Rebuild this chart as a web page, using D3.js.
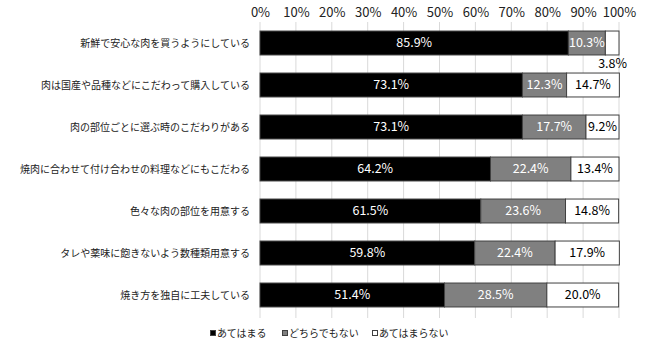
<!DOCTYPE html>
<html><head><meta charset="utf-8">
<script src="https://cdn.jsdelivr.net/npm/d3@7"></script>
<style>body{margin:0;background:#fff;}svg{display:block;font-family:"Noto Sans CJK JP","Noto Sans",sans-serif;}</style>
</head><body>
<svg id="c" width="650" height="349"></svg>
<script>
const categories = ["新鮮で安心な肉を買うようにしている","肉は国産や品種などにこだわって購入している","肉の部位ごとに選ぶ時のこだわりがある","焼肉に合わせて付け合わせの料理などにもこだわる","色々な肉の部位を用意する","タレや薬味に飽きないよう数種類用意する","焼き方を独自に工夫している"];
const seriesNames = ["あてはまる","どちらでもない","あてはまらない"];
const applies = [85.9,73.1,73.1,64.2,61.5,59.8,51.4];
const neutral = [10.3,12.3,17.7,22.4,23.6,22.4,28.5];
const notApplies = [3.8,14.7,9.2,13.4,14.8,17.9,20.0];
const tickValues = [0,10,20,30,40,50,60,70,80,90,100];
const colors = ["#000000","#808080","#ffffff"];
const textColors = ["#ffffff","#ffffff","#000000"];

const svg = d3.select("#c");
const x = d3.scaleLinear().domain([0,100]).range([260,619]);
const y = d3.scaleBand().domain(categories).range([22,316]).paddingInner(0.43).paddingOuter(0.215);

// gridlines
svg.append("g").selectAll("line").data(tickValues).join("line")
  .attr("x1",d=>x(d)).attr("x2",d=>x(d)).attr("y1",22).attr("y2",318)
  .attr("stroke","#d9d9d9").attr("stroke-width",1);

// top axis labels
const ax = svg.append("g").attr("transform","translate(0,22)").call(d3.axisTop(x).tickValues(tickValues).tickFormat(d=>d+"%").tickSize(0).tickPadding(5));
ax.select(".domain").remove();
ax.selectAll("text").attr("font-size",13).attr("fill","#222").attr("font-family","\"Noto Sans CJK JP\",sans-serif");

// category labels
svg.append("g").selectAll("text").data(categories).join("text")
  .attr("x",250).attr("y",d=>y(d)+y.bandwidth()/2).attr("dy","0.35em")
  .attr("text-anchor","end").attr("font-size",10).attr("fill","#222").text(d=>d);

const series = [applies,neutral,notApplies];
const rows = categories.map((c,i)=>{
  let acc=0;
  return series.map((s,k)=>{const seg={cat:c,k:k,v:s[i],x0:acc,x1:acc+s[i]};acc+=s[i];return seg;});
});
const segs = rows.flat();

svg.append("g").selectAll("rect").data(segs).join("rect")
  .attr("x",d=>x(d.x0)).attr("width",d=>x(d.x1)-x(d.x0))
  .attr("y",d=>y(d.cat)).attr("height",y.bandwidth())
  .attr("fill",d=>colors[d.k]).attr("stroke","#404040").attr("stroke-width",1);

svg.append("g").selectAll("text").data(segs).join("text")
  .attr("x",d=> d.v<5 ? x(100)+8 : x((d.x0+d.x1)/2))
  .attr("y",d=> d.v<5 ? y(d.cat)+y.bandwidth()+9 : y(d.cat)+y.bandwidth()/2)
  .attr("dy","0.35em")
  .attr("text-anchor",d=> d.v<5 ? "end":"middle")
  .attr("font-size",12.5)
  .attr("fill",d=> d.v<5 ? "#000" : textColors[d.k])
  .text(d=>d.v.toFixed(1)+"%");

// legend
const legX = [210,282,372];
const lg = svg.append("g").selectAll("g").data(seriesNames).join("g")
  .attr("transform",(d,i)=>`translate(${legX[i]},333)`);
lg.append("rect").attr("x",0.5).attr("y",-2.5).attr("width",5).attr("height",5)
  .attr("fill",(d,i)=>colors[i]).attr("stroke","#404040").attr("stroke-width",1);
lg.append("text").attr("x",7).attr("y",0).attr("dy","0.35em").attr("font-size",10).attr("fill","#222").text(d=>d);
</script>
</body></html>
